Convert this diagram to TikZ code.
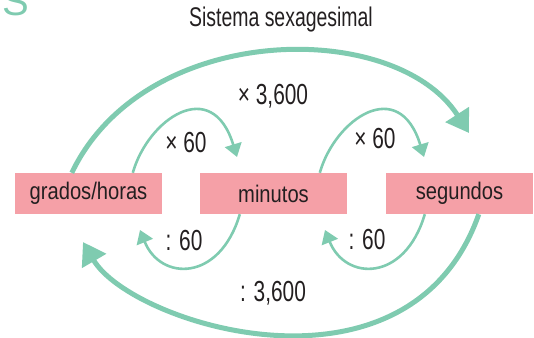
\documentclass[tikz,border=0pt]{standalone}
\usepackage{fontspec}
\setmainfont{Liberation Sans}
\newfontfamily\condA{Liberation Sans}[FakeStretch=0.72]
\newfontfamily\condB{Liberation Sans}[FakeStretch=0.84]
\usetikzlibrary{arrows.meta,calc}
\definecolor{teal}{HTML}{7FCBB0}
\definecolor{pinkbox}{HTML}{F5A0A7}
\definecolor{ink}{HTML}{231F20}
\tikzset{
  unitbox/.style={fill=pinkbox,draw=none,minimum width=147pt,minimum height=41pt,inner sep=0pt,
    text=ink,font=\condB\fontsize{24}{26}\selectfont},
  oplabel/.style={text=ink,inner sep=0pt,font=\condA\fontsize{29}{31}\selectfont},
  bigarrow/.style={draw=teal,line width=5pt,-{Triangle[length=22pt,width=27pt]}},
  smallarrow/.style={draw=teal,line width=2.6pt,-{Triangle[length=13pt,width=17pt]}},
}
\begin{document}
\begin{tikzpicture}[x=1pt,y=-1pt]
\useasboundingbox (0,0) rectangle (534,337);
\node[anchor=base west,text=teal,inner sep=0pt,font=\fontsize{40}{40}\selectfont] (S) at (2,16) {S};
\node[text=ink,inner sep=0pt,font=\condA\fontsize{27}{29}\selectfont] (title) at (281,20) {Sistema sexagesimal};
\node[unitbox] (g) at (88.5,193.5) {grados/horas};
\node[unitbox] (m) at (273.5,193.5) {minutos};
\node[unitbox] (s) at (459.5,193.5) {segundos};
\node[oplabel] (l1) at (186,143) {× 60};
\node[oplabel] (l2) at (375,139) {× 60};
\node[oplabel] (l3) at (184,241) {: 60};
\node[oplabel] (l4) at (367,240) {: 60};
\node[oplabel] (l5) at (273,96) {× 3,600};
\node[oplabel] (l6) at (273,293) {: 3,600};
\coordinate (t1) at (237,157);
\coordinate (t2) at (424,157);
\coordinate (t3) at (140,230);
\coordinate (t4) at (325,230);
\coordinate (t5) at (469,133);
\coordinate (t6) at (83,242);
% small top arcs
\draw[smallarrow] ($(g.north west)+(118,0)$) .. controls (148,119) and (212,75) .. (t1);
\draw[smallarrow] ($(m.north west)+(120,0)$) .. controls (335,119) and (399,75) .. (t2);
% small bottom arcs
\draw[smallarrow] ($(m.south west)+(40,0)$) .. controls (219.6,282.5) and (160.4,281) .. (t3);
\draw[smallarrow] ($(s.south west)+(39,0)$) .. controls (404.6,282.5) and (345.4,281) .. (t4);
% big arcs
\draw[bigarrow] ($(g.north west)+(57,0)$) .. controls (144.5,21) and (395,18) .. (t5);
\draw[bigarrow] ($(s.south west)+(93,0)$) .. controls (409,412) and (131,324) .. (t6);
\end{tikzpicture}
\end{document}
